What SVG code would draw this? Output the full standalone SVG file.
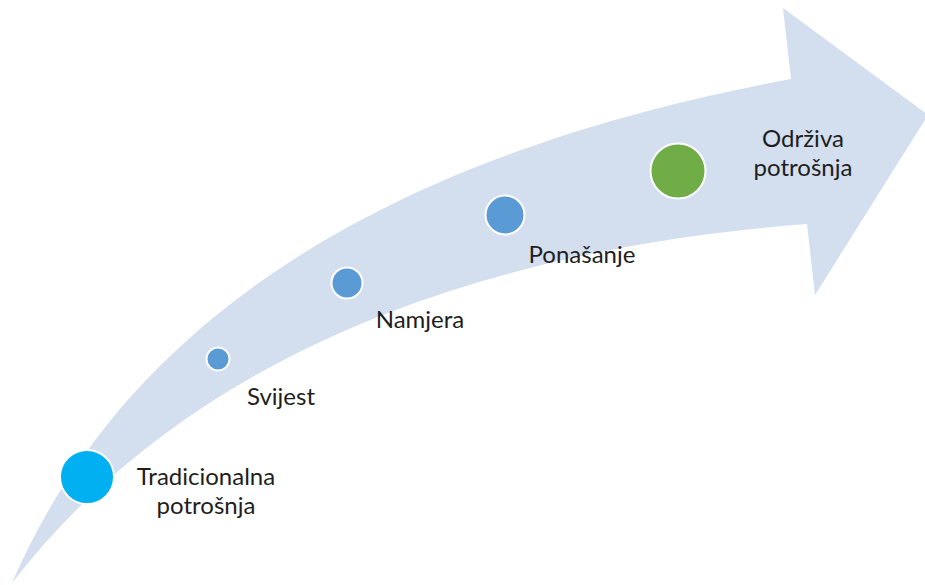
<svg xmlns="http://www.w3.org/2000/svg" width="925" height="585" viewBox="0 0 925 585">
<style>
.lbl{font-family:Lato,"Liberation Sans",sans-serif;font-size:24px;fill:#1e1e1e;text-anchor:middle}
.dot{stroke:#ffffff;stroke-width:2}
</style>
<rect width="925" height="585" fill="#ffffff"/>
<g id="arrow">
<path d="M12,583 C100,380 300,170 791,79 L783,8 L928,115 L815,295 L807,224 C600,240 230,300 12,583 Z" fill="#d3deef"/>
</g>
<g id="connectors"></g>
<g id="node-tradicionalna">
<circle class="dot" cx="87" cy="477" r="27" fill="#00b0f0"/>
<text class="lbl" x="206" y="485">Tradicionalna</text>
<text class="lbl" x="206" y="514">potrošnja</text>
</g>
<g id="node-svijest">
<circle class="dot" cx="218" cy="359" r="11.5" fill="#5b9bd5"/>
<text class="lbl" x="281" y="405">Svijest</text>
</g>
<g id="node-namjera">
<circle class="dot" cx="347" cy="283" r="15.5" fill="#5b9bd5"/>
<text class="lbl" x="420" y="328">Namjera</text>
</g>
<g id="node-ponasanje">
<circle class="dot" cx="505" cy="215" r="19.5" fill="#5b9bd5"/>
<text class="lbl" x="582" y="263">Ponašanje</text>
</g>
<g id="node-odrziva">
<circle class="dot" cx="678" cy="171" r="27.5" fill="#70ad47"/>
<text class="lbl" x="803" y="147">Održiva</text>
<text class="lbl" x="803" y="176">potrošnja</text>
</g>
</svg>
